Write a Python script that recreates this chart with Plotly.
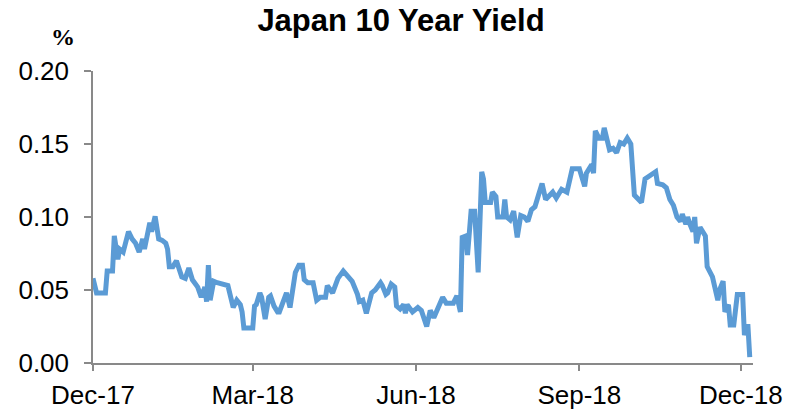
import plotly.graph_objects as go

# Japan 10-year government bond yield, %
dates = [
    "2017-12-01", "2017-12-03", "2017-12-08", "2017-12-09", "2017-12-12", "2017-12-13",
    "2017-12-15", "2017-12-16", "2017-12-18", "2017-12-21", "2017-12-23", "2017-12-25",
    "2017-12-27", "2017-12-29", "2017-12-30", "2017-12-31", "2018-01-02", "2018-01-03",
    "2018-01-05", "2018-01-07", "2018-01-09", "2018-01-11", "2018-01-12", "2018-01-13",
    "2018-01-15", "2018-01-17", "2018-01-18", "2018-01-20", "2018-01-22", "2018-01-24",
    "2018-01-26", "2018-01-29", "2018-01-31", "2018-02-02", "2018-02-03", "2018-02-04",
    "2018-02-05", "2018-02-07", "2018-02-09", "2018-02-12", "2018-02-15", "2018-02-18",
    "2018-02-20", "2018-02-22", "2018-02-23", "2018-02-24", "2018-03-01", "2018-03-02",
    "2018-03-03", "2018-03-05", "2018-03-06", "2018-03-08", "2018-03-10", "2018-03-11",
    "2018-03-13", "2018-03-15", "2018-03-16", "2018-03-20", "2018-03-22", "2018-03-25",
    "2018-03-27", "2018-03-29", "2018-03-30", "2018-04-01", "2018-04-04", "2018-04-06",
    "2018-04-08", "2018-04-11", "2018-04-12", "2018-04-15", "2018-04-18", "2018-04-21",
    "2018-04-24", "2018-04-26", "2018-04-29", "2018-04-30", "2018-05-02", "2018-05-04",
    "2018-05-07", "2018-05-09", "2018-05-12", "2018-05-13", "2018-05-15", "2018-05-16",
    "2018-05-18", "2018-05-20", "2018-05-21", "2018-05-23", "2018-05-25", "2018-05-26",
    "2018-05-27", "2018-05-30", "2018-06-02", "2018-06-04", "2018-06-07", "2018-06-09",
    "2018-06-11", "2018-06-13", "2018-06-16", "2018-06-18", "2018-06-22", "2018-06-24",
    "2018-06-26", "2018-06-27", "2018-06-29", "2018-06-30", "2018-07-02", "2018-07-04",
    "2018-07-06", "2018-07-08", "2018-07-09", "2018-07-10", "2018-07-13", "2018-07-14",
    "2018-07-16", "2018-07-17", "2018-07-20", "2018-07-21", "2018-07-22", "2018-07-24",
    "2018-07-26", "2018-07-28", "2018-07-30", "2018-08-01", "2018-08-03", "2018-08-05",
    "2018-08-07", "2018-08-09", "2018-08-11", "2018-08-13", "2018-08-17", "2018-08-19",
    "2018-08-22", "2018-08-25", "2018-08-26", "2018-08-28", "2018-09-01", "2018-09-04",
    "2018-09-05", "2018-09-08", "2018-09-09", "2018-09-10", "2018-09-12", "2018-09-14",
    "2018-09-15", "2018-09-18", "2018-09-20", "2018-09-22", "2018-09-24", "2018-09-26",
    "2018-09-28", "2018-09-30", "2018-10-02", "2018-10-04", "2018-10-06", "2018-10-08",
    "2018-10-10", "2018-10-12", "2018-10-14", "2018-10-15", "2018-10-18", "2018-10-20",
    "2018-10-22", "2018-10-24", "2018-10-26", "2018-10-28", "2018-10-29", "2018-10-31",
    "2018-11-01", "2018-11-02", "2018-11-04", "2018-11-05", "2018-11-06", "2018-11-08",
    "2018-11-11", "2018-11-12", "2018-11-15", "2018-11-18", "2018-11-19", "2018-11-21",
    "2018-11-22", "2018-11-24", "2018-11-25", "2018-11-27", "2018-11-29", "2018-12-02",
    "2018-12-03", "2018-12-04", "2018-12-05", "2018-12-06",
]

yields = [
    0.058, 0.048, 0.048, 0.063, 0.063, 0.087,
    0.071, 0.078, 0.076, 0.090, 0.085, 0.082,
    0.076, 0.085, 0.078, 0.085, 0.096, 0.090,
    0.1005, 0.085, 0.084, 0.082, 0.078, 0.066,
    0.066, 0.070, 0.067, 0.059, 0.058, 0.065,
    0.057, 0.052, 0.045, 0.052, 0.042, 0.067,
    0.043, 0.056, 0.055, 0.054, 0.053, 0.038,
    0.043, 0.040, 0.035, 0.024, 0.024, 0.039,
    0.040, 0.048, 0.045, 0.030, 0.045, 0.046,
    0.039, 0.035, 0.035, 0.048, 0.038, 0.062,
    0.067, 0.067, 0.057, 0.055, 0.055, 0.043,
    0.045, 0.045, 0.053, 0.048, 0.058, 0.063,
    0.059, 0.056, 0.047, 0.042, 0.043, 0.034,
    0.048, 0.050, 0.055, 0.053, 0.047, 0.048,
    0.054, 0.052, 0.039, 0.037, 0.040, 0.034,
    0.040, 0.035, 0.038, 0.036, 0.025, 0.036,
    0.031, 0.037, 0.045, 0.041, 0.041, 0.046,
    0.035, 0.086, 0.087, 0.074, 0.104, 0.104,
    0.062, 0.131, 0.126, 0.110, 0.110, 0.117,
    0.114, 0.100, 0.100, 0.112, 0.100, 0.098,
    0.104, 0.086, 0.101, 0.100, 0.097, 0.105,
    0.107, 0.115, 0.123, 0.112, 0.117, 0.113,
    0.119, 0.117, 0.124, 0.133, 0.133, 0.121,
    0.130, 0.136, 0.130, 0.159, 0.154, 0.154,
    0.161, 0.146, 0.147, 0.144, 0.151, 0.150,
    0.154, 0.150, 0.115, 0.112, 0.110, 0.126,
    0.128, 0.129, 0.131, 0.123, 0.122, 0.120,
    0.112, 0.108, 0.100, 0.097, 0.102, 0.095,
    0.100, 0.096, 0.090, 0.100, 0.082, 0.093,
    0.087, 0.066, 0.059, 0.043, 0.050, 0.056,
    0.035, 0.040, 0.026, 0.026, 0.047, 0.047,
    0.019, 0.025, 0.025, 0.004,
]

tick_dates = ["2017-12-01", "2018-03-01", "2018-06-01", "2018-09-01", "2018-12-01"]
y_ticks = [0.00, 0.05, 0.10, 0.15, 0.20]

title_text = "Japan 10 Year Yield"
unit_text = "%"

axis_grey = "#898989"
line_blue = "#5B9BD5"
sans = "Liberation Sans, Arial, sans-serif"

fig = go.Figure(
    go.Scatter(
        x=dates,
        y=yields,
        mode="lines",
        line=dict(color=line_blue, width=5),
        hoverinfo="x+y",
    )
)

fig.update_layout(
    width=802,
    height=410,
    margin=dict(l=93, r=49, t=71, b=47),
    paper_bgcolor="white",
    plot_bgcolor="white",
    showlegend=False,
    title=dict(
        text=title_text,
        x=0.5,
        xanchor="center",
        y=0.95,
        yanchor="middle",
        font=dict(family=sans, size=31, color="black", weight="bold"),
    ),
    annotations=[
        dict(
            text=unit_text,
            xref="paper",
            yref="paper",
            x=-0.024,
            y=1.117,
            xanchor="right",
            yanchor="middle",
            showarrow=False,
            font=dict(family="Liberation Serif, Times New Roman, serif", size=24,
                      color="black", weight="bold"),
        )
    ],
)

fig.update_xaxes(
    type="date",
    range=["2017-12-01", "2018-12-07 20:00"],
    tickvals=tick_dates,
    tickformat="%b-%y",
    ticks="outside",
    ticklen=6,
    tickwidth=1.5,
    tickcolor=axis_grey,
    showline=True,
    linecolor=axis_grey,
    linewidth=1.5,
    showgrid=False,
    zeroline=False,
    automargin=False,
    ticklabelstandoff=2,
    tickfont=dict(family=sans, size=26, color="black"),
)

fig.update_yaxes(
    range=[0, 0.20],
    tickvals=y_ticks,
    tickformat=".2f",
    ticks="outside",
    ticklen=7,
    tickwidth=1.5,
    tickcolor=axis_grey,
    showline=True,
    linecolor=axis_grey,
    linewidth=1.5,
    showgrid=False,
    zeroline=False,
    automargin=False,
    ticklabelstandoff=10,
    tickfont=dict(family=sans, size=26, color="black"),
)

fig.write_html("out.html")
